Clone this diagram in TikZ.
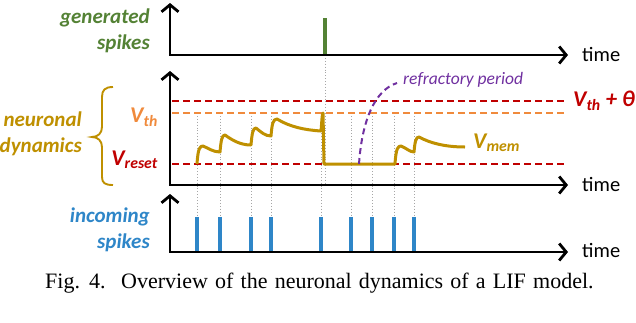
\documentclass[tikz,border=0pt]{standalone}
\usepackage{fontspec}
\setmainfont{Liberation Serif}
\newfontfamily\calib{Carlito}
\usetikzlibrary{arrows.meta}
\definecolor{cgreen}{HTML}{548235}
\definecolor{cgold}{HTML}{BF9000}
\definecolor{corange}{HTML}{F08A3C}
\definecolor{cred}{HTML}{C00000}
\definecolor{cblue}{HTML}{2E86C8}
\definecolor{cpurple}{HTML}{7030A0}
\tikzset{
  axisline/.style={line width=2.8pt, line cap=butt, {Straight Barb[length=7pt,width=17pt,line width=2.8pt]}-{Straight Barb[length=7pt,width=17pt,line width=2.8pt]}},
  thr/.style={line width=1.9pt, dash pattern=on 7pt off 4pt},
  guide/.style={gray!70, line width=0.9pt, dotted},
  spk/.style={line width=3.2pt},
  lbl/.style={font=\calib\bfseries\itshape\fontsize{21}{26}\selectfont, align=right, inner sep=0pt},
  timelbl/.style={font=\calib\fontsize{20.5}{24}\selectfont, anchor=west, inner sep=0pt},
  vlbl/.style={font=\calib\bfseries\itshape\fontsize{22.5}{24}\selectfont, inner sep=0pt},
}
\begin{document}
\begin{tikzpicture}[x=1pt,y=-1pt]
\useasboundingbox (0,0) rectangle (636,322);
% guide lines
\foreach \xx in {197,220,251,271,321,351,372,394,414}{
  \draw[guide] (\xx,113) -- (\xx,217);
}
\draw[guide] (325,55) -- (325,185);
% thresholds
\coordinate (thA) at (172,101);
\coordinate (thB) at (564,101);
\coordinate (vtA) at (172,113);
\coordinate (vtB) at (564,113);
\coordinate (rsA) at (172,164);
\coordinate (rsB) at (564,164);
\draw[thr, cred] (thA) -- (thB);
\draw[thr, corange] (vtA) -- (vtB);
\draw[thr, cred] (rsA) -- (rsB);
% membrane potential
\draw[cgold, line width=3pt, line join=round]
  (197,164) .. controls (198,148) and (200,146) .. (203,146)
  .. controls (208,148) and (213,152) .. (220,152)
  .. controls (221,140) and (222,135) .. (225,135)
  .. controls (232,140) and (240,145) .. (251,145)
  .. controls (252,133) and (253,128) .. (256,128)
  .. controls (261,132) and (265,136) .. (271,136)
  .. controls (272,124) and (273,119) .. (277,119)
  .. controls (290,127) and (305,130) .. (321,131)
  .. controls (322,120) and (322,114) .. (323,113)
  -- (324,164) -- (395,164)
  .. controls (396,148) and (398,146) .. (401,146)
  .. controls (406,148) and (410,152) .. (414,152)
  .. controls (415,141) and (416,137) .. (419,137)
  .. controls (430,143) and (445,147) .. (465,147);
% refractory
\coordinate (rfA) at (359,164);
\coordinate (rfB) at (397,83);
\draw[cpurple, line width=2pt, dash pattern=on 6pt off 4pt] (rfA) .. controls (362,120) and (375,90) .. (rfB);
\node[font=\calib\itshape\fontsize{17.5}{20}\selectfont, text=cpurple, anchor=west, inner sep=0pt] (rf) at (403,80) {refractory period};
% spikes
\draw[spk, cgreen] (325,18) -- (325,55);
\foreach \xx in {197,220,251,271,321,351,372,394,414}{
  \draw[spk, cblue] (\xx,217) -- (\xx,252);
}
% axes
\coordinate (a1) at (170,3);
\coordinate (a1e) at (568,55);
\coordinate (a2) at (170,71);
\coordinate (a2e) at (568,185);
\coordinate (a3) at (170,194);
\coordinate (a3e) at (568,252);
\draw[axisline] (a1) |- (a1e);
\draw[axisline] (a2) |- (a2e);
\draw[axisline] (a3) |- (a3e);
\node[timelbl] (t1) at (582,54) {time};
\node[timelbl] (t2) at (582,184) {time};
\node[timelbl] (t3) at (582,250) {time};
% labels
\node[lbl, text=cgreen, anchor=east] (gen) at (150,31) {generated\\spikes};
\node[lbl, text=cblue, anchor=east] (inc) at (150,230) {incoming\\spikes};
\node[lbl, text=cgold, anchor=east] (nd) at (82,134) {neuronal\\dynamics};
\node[vlbl, text=corange, anchor=east] (vth) at (158,117) {V\textsubscript{th}};
\node[vlbl, text=cred, anchor=east] (vrs) at (158,160) {V\textsubscript{reset}};
\node[vlbl, text=cred, anchor=west] (vthp) at (573,101) {V\textsubscript{th} + θ};
\node[vlbl, text=cgold, anchor=west] (vmem) at (473,143) {V\textsubscript{mem}};
% brace
\draw[cgold, line width=1.9pt] (113,87) .. controls (105,87) and (102,90) .. (102,97) -- (102,127)
  .. controls (102,133) and (98,137) .. (92,137) .. controls (98,137) and (102,141) .. (102,147)
  -- (102,177) .. controls (102,183) and (105,185) .. (113,185);
% caption
\node[font=\fontsize{22}{24}\selectfont, anchor=west, inner sep=0pt] (cap) at (45,283) {\spaceskip=7.2pt Fig. 4.\hspace{0.3em} Overview of the neuronal dynamics of a LIF model.};
\end{tikzpicture}
\end{document}
